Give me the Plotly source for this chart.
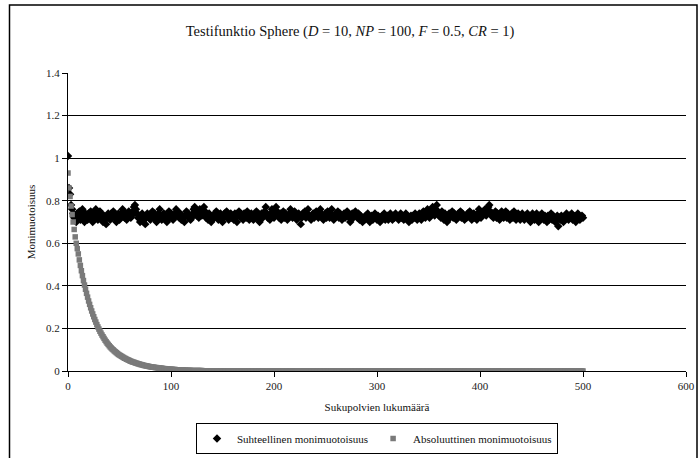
import plotly.graph_objects as go

generations = list(range(0, 501))

relative_diversity = [
    1.01, 0.86, 0.83, 0.78, 0.76, 0.74, 0.72, 0.73, 0.70, 0.74, 0.72, 0.75, 0.71, 0.73, 0.76, 0.72, 0.70, 0.74, 0.73, 0.71,
    0.74, 0.72, 0.75, 0.73, 0.70, 0.72, 0.74, 0.76, 0.73, 0.71, 0.72, 0.75, 0.74, 0.72, 0.70, 0.73, 0.71, 0.69, 0.72, 0.74,
    0.73, 0.71, 0.74, 0.72, 0.75, 0.73, 0.72, 0.70, 0.73, 0.74, 0.71, 0.72, 0.74, 0.76, 0.73, 0.72, 0.74, 0.71, 0.73, 0.75,
    0.74, 0.72, 0.73, 0.75, 0.77, 0.78, 0.76, 0.74, 0.72, 0.73, 0.70, 0.72, 0.74, 0.73, 0.71, 0.69, 0.72, 0.74, 0.73, 0.72,
    0.71, 0.73, 0.75, 0.72, 0.74, 0.73, 0.70, 0.72, 0.74, 0.76, 0.73, 0.71, 0.72, 0.74, 0.73, 0.71, 0.70, 0.73, 0.75, 0.72,
    0.74, 0.73, 0.71, 0.72, 0.74, 0.76, 0.75, 0.73, 0.72, 0.74, 0.71, 0.73, 0.72, 0.70, 0.73, 0.75, 0.74, 0.72, 0.73, 0.71,
    0.72, 0.74, 0.76, 0.77, 0.75, 0.73, 0.74, 0.72, 0.76, 0.75, 0.73, 0.74, 0.77, 0.75, 0.72, 0.73, 0.71, 0.74, 0.72, 0.70,
    0.71, 0.73, 0.72, 0.74, 0.75, 0.73, 0.71, 0.72, 0.74, 0.73, 0.70, 0.72, 0.74, 0.73, 0.75, 0.72, 0.71, 0.73, 0.74, 0.72,
    0.73, 0.71, 0.74, 0.72, 0.70, 0.73, 0.75, 0.74, 0.72, 0.73, 0.71, 0.74, 0.73, 0.72, 0.75, 0.73, 0.71, 0.72, 0.74, 0.73,
    0.71, 0.73, 0.72, 0.75, 0.74, 0.72, 0.70, 0.73, 0.74, 0.72, 0.73, 0.75, 0.77, 0.74, 0.72, 0.73, 0.71, 0.74, 0.76, 0.73,
    0.72, 0.74, 0.77, 0.75, 0.73, 0.72, 0.74, 0.71, 0.73, 0.75, 0.72, 0.74, 0.73, 0.71, 0.72, 0.74, 0.76, 0.73, 0.72, 0.74,
    0.75, 0.73, 0.71, 0.72, 0.74, 0.73, 0.69, 0.72, 0.74, 0.73, 0.75, 0.72, 0.74, 0.76, 0.73, 0.72, 0.71, 0.73, 0.74, 0.72,
    0.73, 0.75, 0.74, 0.72, 0.73, 0.76, 0.74, 0.72, 0.71, 0.73, 0.74, 0.72, 0.75, 0.73, 0.72, 0.74, 0.76, 0.73, 0.71, 0.72,
    0.74, 0.73, 0.75, 0.72, 0.74, 0.73, 0.71, 0.73, 0.74, 0.72, 0.73, 0.75, 0.74, 0.72, 0.70, 0.73, 0.74, 0.72, 0.73, 0.75,
    0.73, 0.72, 0.74, 0.71, 0.73, 0.72, 0.70, 0.72, 0.71, 0.73, 0.72, 0.74, 0.71, 0.70, 0.72, 0.73, 0.71, 0.72, 0.74, 0.72,
    0.71, 0.73, 0.72, 0.70, 0.71, 0.73, 0.72, 0.74, 0.71, 0.72, 0.73, 0.71, 0.72, 0.74, 0.72, 0.71, 0.73, 0.72, 0.74, 0.73,
    0.72, 0.71, 0.73, 0.74, 0.72, 0.73, 0.71, 0.72, 0.74, 0.73, 0.71, 0.70, 0.72, 0.73, 0.71, 0.73, 0.72, 0.74, 0.73, 0.71,
    0.72, 0.74, 0.73, 0.71, 0.73, 0.75, 0.74, 0.72, 0.73, 0.76, 0.74, 0.72, 0.73, 0.75, 0.77, 0.74, 0.73, 0.76, 0.78, 0.75,
    0.73, 0.74, 0.72, 0.75, 0.73, 0.71, 0.74, 0.72, 0.70, 0.73, 0.74, 0.72, 0.73, 0.75, 0.72, 0.74, 0.73, 0.71, 0.72, 0.74,
    0.73, 0.75, 0.72, 0.74, 0.73, 0.71, 0.73, 0.72, 0.74, 0.73, 0.75, 0.72, 0.71, 0.73, 0.74, 0.72, 0.73, 0.71, 0.74, 0.76,
    0.74, 0.72, 0.73, 0.75, 0.74, 0.76, 0.73, 0.75, 0.77, 0.78, 0.75, 0.73, 0.74, 0.72, 0.73, 0.75, 0.72, 0.74, 0.73, 0.71,
    0.73, 0.75, 0.74, 0.72, 0.73, 0.75, 0.72, 0.74, 0.73, 0.71, 0.73, 0.74, 0.72, 0.75, 0.73, 0.71, 0.72, 0.74, 0.73, 0.71,
    0.72, 0.74, 0.73, 0.71, 0.73, 0.72, 0.74, 0.73, 0.71, 0.70, 0.72, 0.74, 0.73, 0.71, 0.72, 0.74, 0.72, 0.70, 0.73, 0.72,
    0.74, 0.72, 0.71, 0.73, 0.72, 0.70, 0.73, 0.71, 0.72, 0.74, 0.71, 0.73, 0.72, 0.70, 0.71, 0.73, 0.68, 0.72, 0.71, 0.73,
    0.72, 0.70, 0.71, 0.73, 0.74, 0.72, 0.71, 0.73, 0.72, 0.74, 0.71, 0.73, 0.72, 0.70, 0.72, 0.74, 0.73, 0.71, 0.72, 0.73,
    0.72,
]

absolute_diversity = [
    0.930, 0.860, 0.820, 0.775, 0.735, 0.700, 0.665, 0.630, 0.600, 0.575,
    0.550, 0.522, 0.496, 0.471, 0.448, 0.425, 0.404, 0.384, 0.365, 0.347,
    0.329, 0.313, 0.297, 0.282, 0.268, 0.255, 0.242, 0.230, 0.218, 0.207,
    0.197, 0.187, 0.178, 0.169, 0.161, 0.153, 0.145, 0.138, 0.131, 0.125,
    0.119, 0.113, 0.108, 0.103, 0.099, 0.094, 0.090, 0.086, 0.082, 0.078,
    0.075, 0.072, 0.069, 0.066, 0.063, 0.060, 0.058, 0.055, 0.053, 0.051,
    0.048, 0.046, 0.044, 0.042, 0.041, 0.039, 0.037, 0.036, 0.034, 0.033,
    0.031, 0.030, 0.029, 0.027, 0.026, 0.025, 0.024, 0.023, 0.022, 0.021,
    0.020, 0.019, 0.018, 0.018, 0.017, 0.016, 0.016, 0.015, 0.014, 0.014,
    0.013, 0.013, 0.012, 0.011, 0.011, 0.010, 0.010, 0.009, 0.009, 0.008,
    0.008, 0.008, 0.007, 0.007, 0.007, 0.006, 0.006, 0.006, 0.005, 0.005,
    0.005, 0.004, 0.004, 0.004, 0.004, 0.003, 0.003, 0.003, 0.003, 0.003,
    0.002, 0.002, 0.002, 0.002, 0.002, 0.002, 0.002, 0.002, 0.002, 0.002,
    0.002, 0.001, 0.001, 0.001, 0.001, 0.001, 0.001, 0.001, 0.001, 0.001,
    0.001, 0.001, 0.001, 0.001, 0.001, 0.001, 0.001, 0.001, 0.001, 0.001,
    0.001, 0, 0, 0, 0, 0, 0, 0, 0, 0,
    0, 0, 0, 0, 0, 0, 0, 0, 0, 0, 0, 0, 0, 0, 0, 0, 0, 0, 0, 0, 0, 0, 0, 0, 0,
    0, 0, 0, 0, 0, 0, 0, 0, 0, 0, 0, 0, 0, 0, 0, 0, 0, 0, 0, 0, 0, 0, 0, 0, 0,
    0, 0, 0, 0, 0, 0, 0, 0, 0, 0, 0, 0, 0, 0, 0, 0, 0, 0, 0, 0, 0, 0, 0, 0, 0,
    0, 0, 0, 0, 0, 0, 0, 0, 0, 0, 0, 0, 0, 0, 0, 0, 0, 0, 0, 0, 0, 0, 0, 0, 0,
    0, 0, 0, 0, 0, 0, 0, 0, 0, 0, 0, 0, 0, 0, 0, 0, 0, 0, 0, 0, 0, 0, 0, 0, 0,
    0, 0, 0, 0, 0, 0, 0, 0, 0, 0, 0, 0, 0, 0, 0, 0, 0, 0, 0, 0, 0, 0, 0, 0, 0,
    0, 0, 0, 0, 0, 0, 0, 0, 0, 0, 0, 0, 0, 0, 0, 0, 0, 0, 0, 0, 0, 0, 0, 0, 0,
    0, 0, 0, 0, 0, 0, 0, 0, 0, 0, 0, 0, 0, 0, 0, 0, 0, 0, 0, 0, 0, 0, 0, 0, 0,
    0, 0, 0, 0, 0, 0, 0, 0, 0, 0, 0, 0, 0, 0, 0, 0, 0, 0, 0, 0, 0, 0, 0, 0, 0,
    0, 0, 0, 0, 0, 0, 0, 0, 0, 0, 0, 0, 0, 0, 0, 0, 0, 0, 0, 0, 0, 0, 0, 0, 0,
    0, 0, 0, 0, 0, 0, 0, 0, 0, 0, 0, 0, 0, 0, 0, 0, 0, 0, 0, 0, 0, 0, 0, 0, 0,
    0, 0, 0, 0, 0, 0, 0, 0, 0, 0, 0, 0, 0, 0, 0, 0, 0, 0, 0, 0, 0, 0, 0, 0, 0,
    0, 0, 0, 0, 0, 0, 0, 0, 0, 0, 0, 0, 0, 0, 0, 0, 0, 0, 0, 0, 0, 0, 0, 0, 0,
    0, 0, 0, 0, 0, 0, 0, 0, 0, 0, 0, 0, 0, 0, 0, 0, 0, 0, 0, 0, 0, 0, 0, 0, 0,
]

series_names = ["Suhteellinen monimuotoisuus", "Absoluuttinen monimuotoisuus"]
x_ticks = [0, 100, 200, 300, 400, 500, 600]
y_ticks = [0, 0.2, 0.4, 0.6, 0.8, 1, 1.2, 1.4]
y_tick_labels = ["0", "0.2", "0.4", "0.6", "0.8", "1", "1.2", "1.4"]

FONT = "Liberation Serif, Times New Roman, serif"
n = min(len(generations), len(absolute_diversity))

fig = go.Figure()
fig.add_trace(go.Scatter(
    x=generations[:len(relative_diversity)], y=relative_diversity, mode="markers",
    name=series_names[0],
    marker=dict(symbol="diamond", size=6.5, color="#000000"),
))
fig.add_trace(go.Scatter(
    x=generations[:n], y=absolute_diversity[:n], mode="markers",
    name=series_names[1],
    marker=dict(symbol="square", size=5.5, color="#7a7a7a"),
))

fig.update_layout(
    width=700, height=458,
    margin=dict(l=68, r=14, t=73, b=87),
    paper_bgcolor="white", plot_bgcolor="white",
    font=dict(family=FONT, size=11, color="#222222"),
    title=dict(
        text="Testifunktio Sphere (<i>D</i> = 10, <i>NP</i> = 100, <i>F</i> = 0.5, <i>CR</i> = 1)",
        x=0.5, xanchor="center", y=1 - 31 / 458, yanchor="middle",
        font=dict(family=FONT, size=14.5, color="#111111"),
    ),
    showlegend=True,
    legend=dict(
        orientation="h", x=0.5, xanchor="center", xref="paper",
        y=1 - 438.5 / 458, yanchor="middle", yref="container",
        bordercolor="#000000", borderwidth=1, bgcolor="white",
        font=dict(family=FONT, size=11, color="#111111"),
        itemsizing="trace", tracegroupgap=0, itemwidth=30,
    ),
    xaxis=dict(
        range=[0, 600], tickvals=x_ticks, ticktext=[str(v) for v in x_ticks],
        showgrid=False, zeroline=False, automargin=False,
        showline=True, linecolor="#000000", linewidth=1,
        ticks="outside", ticklen=5, tickcolor="#000000",
        title=dict(text="Sukupolvien lukumäärä", standoff=12,
                   font=dict(family=FONT, size=11, color="#111111")),
    ),
    yaxis=dict(
        range=[0, 1.4], tickvals=y_ticks, ticktext=y_tick_labels,
        showgrid=True, gridcolor="#000000", gridwidth=1, zeroline=False, automargin=False,
        showline=True, linecolor="#000000", linewidth=1,
        ticks="outside", ticklen=5, tickcolor="#000000",
        title=dict(text="Monimuotoisuus", standoff=8,
                   font=dict(family=FONT, size=11, color="#111111")),
    ),
    shapes=[dict(
        type="rect", xref="paper", yref="paper",
        x0=(9.5 - 68) / 618, x1=(697 - 68) / 618,
        y0=(371 - 470) / 298, y1=(371 - 5) / 298,
        line=dict(color="#000000", width=1.5), fillcolor="rgba(0,0,0,0)", layer="below",
    )],
)

fig.write_html("out.html")
